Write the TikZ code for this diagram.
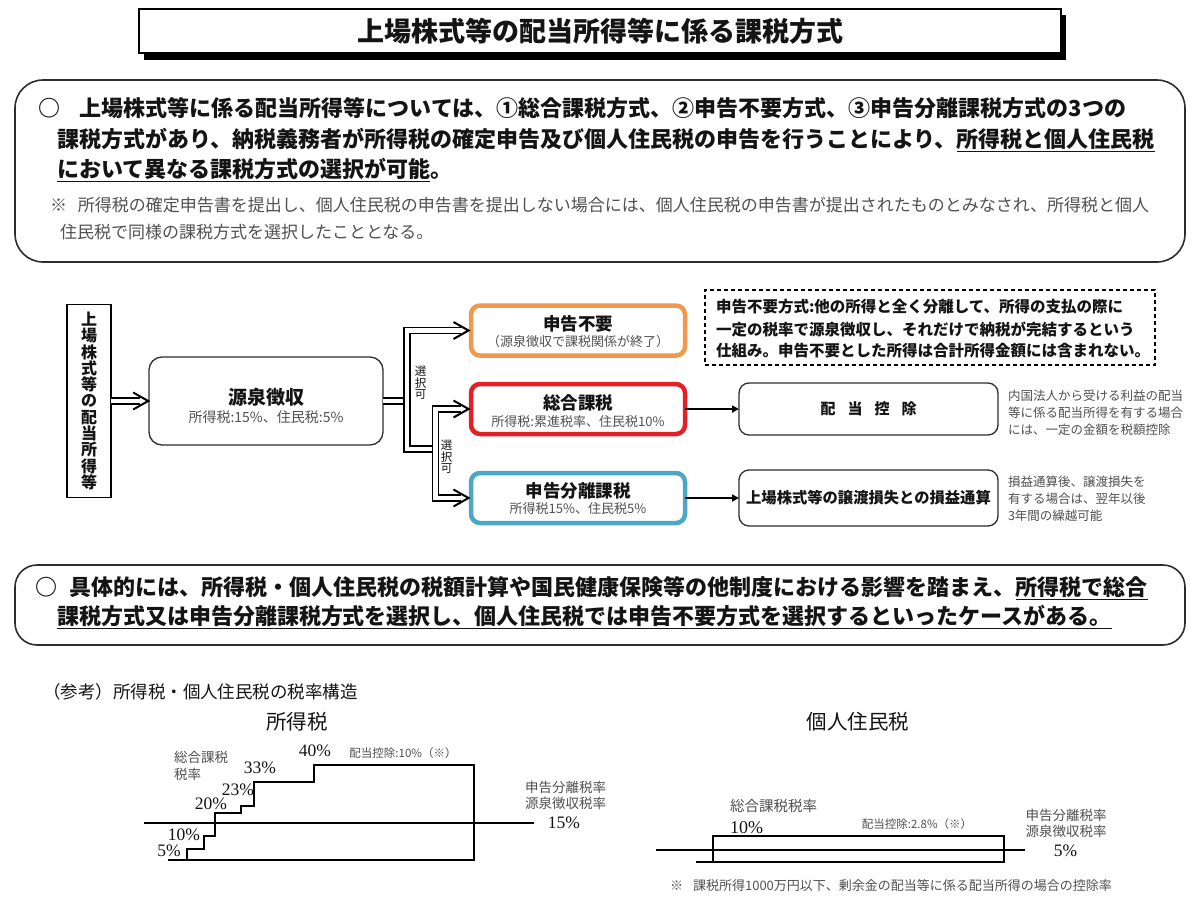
\documentclass[tikz,border=0pt]{standalone}
\usepackage{fontspec}
\setmainfont{Noto Sans CJK JP}
\newfontfamily\lserif{Liberation Serif}
\usetikzlibrary{arrows.meta,calc}
\definecolor{orangeb}{RGB}{240,152,78}
\definecolor{redb}{RGB}{226,32,38}
\definecolor{blueb}{RGB}{75,168,196}
\definecolor{txtgray}{RGB}{80,80,80}
\definecolor{linegray}{RGB}{45,45,45}
\definecolor{ink}{RGB}{20,20,20}
\newcommand{\fsz}[2]{\fontsize{#1pt}{#2pt}\selectfont}
\newcommand{\ulx}[1]{\setbox0=\hbox{#1}\rlap{\rule[-5pt]{\wd0}{1.5pt}}\box0}
\begin{document}
\begin{tikzpicture}[x=1pt,y=-1pt,
  every node/.style={inner sep=0pt,outer sep=0pt,text=ink},
  dbl/.style={draw=black,double=white,double distance=4.2pt,line width=1.7pt,line join=miter},
  chev/.style={draw=black,line width=2pt,line join=miter},
  tarrow/.style={draw=black,line width=1.8pt,-{Triangle[length=7pt,width=7pt]}},
  choice/.style={draw,fill=white,rounded corners=9pt,line width=4.5pt,minimum width=214pt,minimum height=50pt},
  rbox/.style={draw=linegray,fill=white,rounded corners=10pt,line width=1.3pt,minimum width=259pt},
  bigbox/.style={draw=linegray,rounded corners=28pt,line width=1.6pt,minimum width=1170pt},
  head/.style={font=\bfseries\fsz{22}{26}},
  notef/.style={font=\fsz{17}{20},text=txtgray},
  boxt/.style={font=\bfseries\fsz{17.5}{20}},
  boxs/.style={font=\fsz{13}{16},text=txtgray},
  smallg/.style={font=\fsz{12.5}{15},text=txtgray},
  dtext/.style={font=\bfseries\fsz{15.5}{18}},
  pct/.style={font=\lserif\fsz{17.5}{20}},
  chl/.style={font=\fsz{13.5}{16},text=txtgray},
  thick2/.style={draw=black,line width=2pt,line join=miter}
]
\fill[white] (0,0) rectangle (1200,900);
\useasboundingbox (0,0) rectangle (1200,900);

% ---------- title ----------
\fill[black] (144,15) rectangle (1066,60);
\node[draw=black,fill=white,line width=2pt,minimum width=922pt,minimum height=44pt,
  font=\bfseries\fsz{27}{30}] (title) at (600,31) {上場株式等の配当所得等に係る課税方式};

% ---------- top statement ----------
\node[bigbox,minimum height=182pt] (topbox) at (600,171) {};
\node[head,anchor=west] (p1) at (38,108) {○\hspace{20pt}上場株式等に係る配当所得等については、①総合課税方式、②申告不要方式、③申告分離課税方式の3つの};
\node[head,anchor=west] (p2) at (57,140) {課税方式があり、納税義務者が所得税の確定申告及び個人住民税の申告を行うことにより、\ulx{所得税と個人住民税}};
\node[head,anchor=west] (p3) at (57,170) {\ulx{において異なる課税方式の選択が可能}。};
\node[notef,anchor=west] (n1) at (50,205) {※\hspace{11pt}所得税の確定申告書を提出し、個人住民税の申告書を提出しない場合には、個人住民税の申告書が提出されたものとみなされ、所得税と個人};
\node[notef,anchor=west] (n2) at (60,232) {住民税で同様の課税方式を選択したこととなる。};

% ---------- flow ----------
\node[draw=black,line width=1.8pt,minimum width=44pt,minimum height=193pt,align=center,
  font=\bfseries\fsz{16}{16.3}] (src) at (89,401) {上\\場\\株\\式\\等\\の\\配\\当\\所\\得\\等};
\node[draw=linegray,line width=1.3pt,rounded corners=13pt,minimum width=234pt,minimum height=88pt] (gensen) at (266,401) {};
\node[font=\bfseries\fsz{19}{22}] (gensenT) at (266,397) {源泉徴収};
\node[font=\fsz{14}{16},text=txtgray] (gensenS) at (266,417) {所得税:15\%、住民税:5\%};

\node[choice,draw=orangeb] (fuyou) at (578,330.5) {};
\node[boxt] (fuyouT) at (578,324) {申告不要};
\node[boxs] (fuyouS) at (578,342) {（源泉徴収で課税関係が終了）};
\node[choice,draw=redb] (sougou) at (578,409) {};
\node[boxt] (sougouT) at (578,403) {総合課税};
\node[boxs] (sougouS) at (578,422) {所得税:累進税率、住民税10\%};
\node[choice,draw=blueb] (bunri) at (578,498) {};
\node[boxt] (bunriT) at (578,491) {申告分離課税};
\node[boxs] (bunriS) at (578,509) {所得税15\%、住民税5\%};

% double arrows
\coordinate (tipG) at ($(gensen.west)+(-0.8,0)$);
\coordinate (tipF) at ($(fuyou.west)+(-2.5,0)$);
\coordinate (tipS) at ($(sougou.west)+(-2.5,0)$);
\coordinate (tipB) at ($(bunri.west)+(-2.5,0)$);
\coordinate (j0) at (404.5,401);
\coordinate (v1t) at (407,330.5);
\coordinate (v1b) at (407,449);
\coordinate (v2j) at (432.5,449);
\coordinate (v2t) at (435.5,409);
\coordinate (v2b) at (435.5,498);
\draw[dbl] (src.east) -- ($(tipG)+(-8,0)$);
\draw[chev] ($(tipG)+(-15,-8.5)$) -- (tipG) -- ($(tipG)+(-15,8.5)$);
\draw[dbl] (gensen.east) -- (j0);
\draw[dbl] ($(tipF)+(-8,0)$) -- (v1t) -- (v1b) -- (v2j);
\draw[dbl] ($(tipS)+(-8,0)$) -- (v2t) -- (v2b) -- ($(tipB)+(-8,0)$);
\draw[chev] ($(tipF)+(-15,-8.5)$) -- (tipF) -- ($(tipF)+(-15,8.5)$);
\draw[chev] ($(tipS)+(-15,-8.5)$) -- (tipS) -- ($(tipS)+(-15,8.5)$);
\draw[chev] ($(tipB)+(-15,-8.5)$) -- (tipB) -- ($(tipB)+(-15,8.5)$);
\node[align=center,font=\fsz{11.5}{11.5}] (sel1) at (420.5,383) {選\\択\\可};
\node[align=center,font=\fsz{11.5}{11.5}] (sel2) at (446.5,457) {選\\択\\可};

% dashed explanation
\node[draw=black,dashed,dash pattern=on 4pt off 3pt,line width=1.3pt,minimum width=450pt,minimum height=75pt] (dbox) at (930,327.5) {};
\node[dtext,anchor=west] (d1) at (716,307) {申告不要方式:他の所得と全く分離して、所得の支払の際に};
\node[dtext,anchor=west] (d2) at (716,329) {一定の税率で源泉徴収し、それだけで納税が完結するという};
\node[dtext,anchor=west] (d3) at (716,351) {仕組み。申告不要とした所得は合計所得金額には含まれない。};

% right boxes
\node[rbox,minimum height=52pt,font=\bfseries\fsz{15}{18}] (haito) at (868.5,409) {配\hspace{12pt}当\hspace{12pt}控\hspace{12pt}除};
\node[rbox,minimum height=56pt,font=\bfseries\fsz{15.3}{18}] (jouto) at (868.5,498) {上場株式等の譲渡損失との損益通算};
\draw[tarrow] (sougou.east) -- (haito.west);
\draw[tarrow] (bunri.east) -- (jouto.west);
\node[smallg,anchor=west] (h1) at (1008,396) {内国法人から受ける利益の配当};
\node[smallg,anchor=west] (h2) at (1008,413) {等に係る配当所得を有する場合};
\node[smallg,anchor=west] (h3) at (1008,430) {には、一定の金額を税額控除};
\node[smallg,anchor=west] (k1) at (1008,482) {損益通算後、譲渡損失を};
\node[smallg,anchor=west] (k2) at (1008,499) {有する場合は、翌年以後};
\node[smallg,anchor=west] (k3) at (1008,516) {3年間の繰越可能};

% ---------- bottom statement ----------
\node[bigbox,rounded corners=22pt,minimum height=80pt] (botbox) at (600,605) {};
\node[head,anchor=west] (q1) at (35,588) {○\hspace{13pt}具体的には、所得税・個人住民税の税額計算や国民健康保険等の他制度における影響を踏まえ、\ulx{所得税で総合}};
\node[head,anchor=west] (q2) at (57,617) {\ulx{課税方式又は申告分離課税方式を選択し、個人住民税では申告不要方式を選択するといったケースがある。}};

% ---------- charts ----------
\node[font=\fsz{17.5}{20},anchor=west] (ref) at (43,692) {（参考）所得税・個人住民税の税率構造};
\node[font=\fsz{20.5}{24}] (itax) at (297,722) {所得税};
\node[font=\fsz{20.5}{24}] (rtax) at (858,722) {個人住民税};

% income tax chart
\draw[thick2] (168,860) -- (474,860) -- (474,765) -- (314,765) -- (314,782) -- (254,782) -- (254,805.5)
  -- (241,805.5) -- (241,813) -- (215,813) -- (215,836) -- (204,836) -- (204,848.7) -- (186.6,848.7) -- (186.6,860);
\draw[thick2] (144,823) -- (534,823);
\node[chl,anchor=west] (c1) at (174,757) {総合課税};
\node[chl,anchor=west] (c2) at (174,774) {税率};
\node[pct] (p40) at (315,751) {40\%};
\node[font=\fsz{11.5}{14},text=txtgray] (dk1) at (403,753) {配当控除:10\%（※）};
\node[pct] (p33) at (260,768) {33\%};
\node[pct] (p23) at (238,790) {23\%};
\node[pct] (p20) at (211,804) {20\%};
\node[pct] (p10) at (184,835) {10\%};
\node[pct] (p5) at (169,851) {5\%};
\node[chl,anchor=west] (s1) at (525,787) {申告分離税率};
\node[chl,anchor=west] (s2) at (525,803) {源泉徴収税率};
\node[pct] (p15) at (564,823) {15\%};

% resident tax chart
\draw[draw=black,line width=1.5pt] (713,836) rectangle (1004,862);
\draw[draw=black,line width=1.5pt] (696,862) -- (713,862);
\draw[thick2,line width=2.2pt] (655.5,850) -- (1024.5,850);
\node[font=\fsz{14.5}{17},text=txtgray,anchor=west] (r1) at (730,806) {総合課税税率};
\node[pct,font=\lserif\fsz{18}{20},anchor=west] (r10) at (730,828) {10\%};
\node[font=\fsz{11.5}{14},text=txtgray] (dk2) at (917,824) {配当控除:2.8\%（※）};
\node[chl] (t1) at (1066,815) {申告分離税率};
\node[chl] (t2) at (1066,831.5) {源泉徴収税率};
\node[pct] (p5b) at (1065.5,851) {5\%};
\node[font=\fsz{13}{16},text=txtgray] (foot) at (891,886) {※\hspace{10pt}課税所得1000万円以下、剰余金の配当等に係る配当所得の場合の控除率};
\end{tikzpicture}
\end{document}
